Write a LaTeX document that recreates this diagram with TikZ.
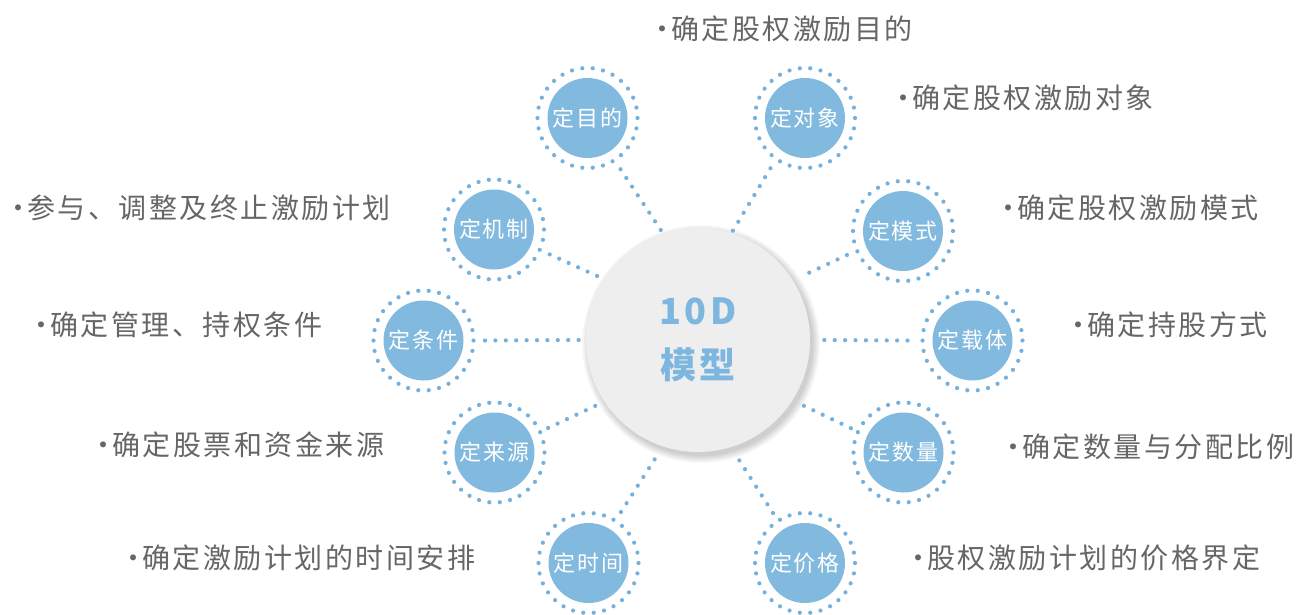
\documentclass[tikz,border=0pt]{standalone}
\usepackage{fontspec}
\newfontfamily\lblfont[LetterSpace=9]{Noto Sans CJK SC}
\newfontfamily\satfont[LetterSpace=9]{Noto Sans CJK SC}
\newfontfamily\cenfont[LetterSpace=10]{Noto Sans CJK SC}
\newcommand\lbldot{\rlap{\hspace{-12pt}·}\hspace{11pt}}
\definecolor{dotc}{HTML}{74B1DD}
\definecolor{satc}{HTML}{82BADF}
\definecolor{txtc}{HTML}{666666}
\definecolor{cenc}{HTML}{EEEEEE}
\definecolor{cent}{HTML}{7DB6DE}
\begin{document}
\begin{tikzpicture}[x=1pt,y=-1pt,
  sat/.style={circle, fill=satc, minimum size=80pt, inner sep=0pt, text=white,
    font=\satfont\fontsize{22}{22}\selectfont},
  ring/.style={draw=dotc, line width=4.2pt, line cap=round, dash pattern=on 0pt off 10.47pt},
  conn/.style={draw=dotc, line width=4.2pt, line cap=round, dash pattern=on 0pt off 10.4pt},
  lbl/.style={anchor=west, inner sep=0pt, text=txtc, font=\lblfont\fontsize{28}{28}\selectfont},
  hub/.style={circle, fill=cenc, minimum size=224pt, inner sep=0pt, text=cent, align=center,
    font=\cenfont\bfseries\fontsize{36}{54}\selectfont}]
\fill[white] (0,0) rectangle (1306,614);
\useasboundingbox (0,0) rectangle (1306,614);
% soft shadow of the hub
\foreach \r in {112,113,...,119} \fill[black,opacity=0.022] (701,344) circle[radius=\r pt];
\node[hub] (hub) at (698,340) {10D\\模型};
% satellites
\node[sat] (s1) at (587.5,118) {定目的};
\node[sat] (s2) at (805,118) {定对象};
\node[sat] (s3) at (494,229.5) {定机制};
\node[sat] (s4) at (903,231) {定模式};
\node[sat] (s5) at (423.5,340.5) {定条件};
\node[sat] (s6) at (972.5,340.5) {定载体};
\node[sat] (s7) at (494.5,452.5) {定来源};
\node[sat] (s8) at (903.5,452.5) {定数量};
\node[sat] (s9) at (588.5,563) {定时间};
\node[sat] (s10) at (805,563) {定价格};
\foreach \s in {s1,s2,s3,s4,s5,s6,s7,s8,s9,s10}
  \draw[ring] (\s.center) circle[radius=50pt];
% connectors
\foreach \s/\a/\da/\b/\db in {
  s1/-57.2/61/108.4/114, s2/-124.5/61/72.5/113,
  s3/-24.1/61/147.6/119.6, s4/-156.8/61/31.7/119.9,
  s5/0/61.5/180/119, s6/180/65/0/117,
  s7/24.6/59/-147.2/120, s8/155.2/58/-32.1/120,
  s9/57.5/60.5/-108.9/117.3, s10/122.6/59.4/-72.2/117.6}
  \draw[conn] ([shift={(\a:\da pt)}]\s.center) -- ([shift={(\b:\db pt)}]hub.center);
% labels (x = centre of the leading dot minus 2)
\node[lbl] (l1) at (660,29) {\lbldot 确定股权激励目的};
\node[lbl] (l2) at (901,98) {\lbldot 确定股权激励对象};
\node[lbl] (l3) at (16,208) {\lbldot 参与、调整及终止激励计划};
\node[lbl] (l4) at (1006,208) {\lbldot 确定股权激励模式};
\node[lbl] (l5) at (39,325) {\lbldot 确定管理、持权条件};
\node[lbl] (l6) at (1076,325) {\lbldot 确定持股方式};
\node[lbl] (l7) at (101,445) {\lbldot 确定股票和资金来源};
\node[lbl] (l8) at (1011,447) {\lbldot 确定数量与分配比例};
\node[lbl] (l9) at (131,558) {\lbldot 确定激励计划的时间安排};
\node[lbl] (l10) at (916,558) {\lbldot 股权激励计划的价格界定};
\end{tikzpicture}
\end{document}
